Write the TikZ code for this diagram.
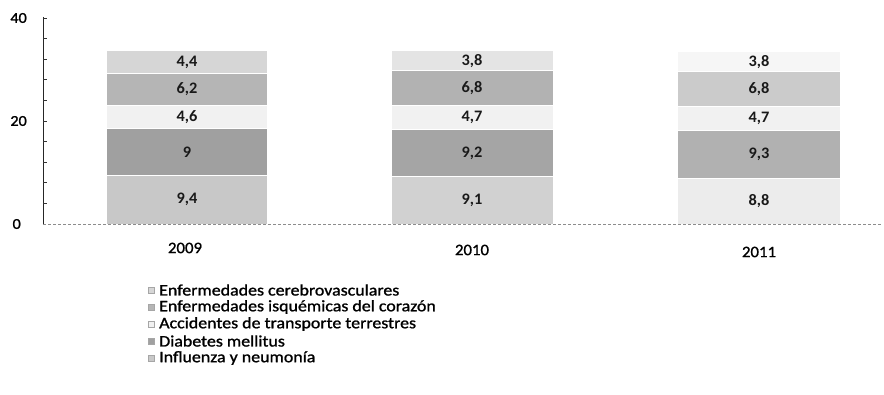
\documentclass[tikz,border=0pt]{standalone}
\usepackage{fontspec}
\setmainfont{Carlito}
\newfontfamily\legfont[FakeStretch=1.12, FakeBold=1.2]{Carlito}
\newfontfamily\yearfont[FakeStretch=1.05, FakeBold=1]{Carlito}
\newfontfamily\segfont[FakeStretch=1.02]{Carlito}
\newfontfamily\axfont[FakeStretch=1.08, FakeBold=1.2]{Carlito}
\begin{document}
\begin{tikzpicture}[x=1pt,y=-1pt,
  seglab/.style={font=\segfont\fontsize{16}{16}\selectfont\bfseries, text=black!90, inner sep=0pt},
  axlab/.style={font=\axfont\fontsize{15}{15}\selectfont, anchor=east, inner sep=0pt},
  yearlab/.style={font=\yearfont\fontsize{16}{16}\selectfont, inner sep=0pt},
  leglab/.style={font=\legfont\fontsize{16}{16}\selectfont, anchor=west, inner sep=0pt},
  legmark/.style={minimum size=6pt, inner sep=0pt, draw=black!35, line width=0.4pt},
  axisline/.style={line width=0.9pt, black!85},
  baseline/.style={line width=0.8pt, black!45, dash pattern=on 3pt off 2pt},
]
\useasboundingbox (0,0) rectangle (884,395);
\definecolor{cerA}{HTML}{D6D6D6}\definecolor{cerB}{HTML}{E4E4E4}\definecolor{cerC}{HTML}{F6F6F6}
\definecolor{isqA}{HTML}{B5B5B5}\definecolor{isqB}{HTML}{B2B2B2}\definecolor{isqC}{HTML}{CBCBCB}
\definecolor{accA}{HTML}{F1F1F1}
\definecolor{diaA}{HTML}{A0A0A0}\definecolor{diaB}{HTML}{A5A5A5}\definecolor{diaC}{HTML}{B1B1B1}
\definecolor{infA}{HTML}{C8C8C8}\definecolor{infB}{HTML}{D1D1D1}\definecolor{infC}{HTML}{ECECEC}
\def\s{5.15}
% 2009
\fill[infA] (107,224) rectangle (267,{224-9.4*\s});
\fill[diaA] (107,{224-9.4*\s-1}) rectangle (267,{224-18.4*\s});
\fill[accA] (107,{224-18.4*\s-1}) rectangle (267,{224-23.0*\s});
\fill[isqA] (107,{224-23.0*\s-1}) rectangle (267,{224-29.2*\s});
\fill[cerA] (107,{224-29.2*\s-1}) rectangle (267,{224-33.6*\s});
% 2010
\fill[infB] (392,224) rectangle (553,{224-9.1*\s});
\fill[diaB] (392,{224-9.1*\s-1}) rectangle (553,{224-18.3*\s});
\fill[accA] (392,{224-18.3*\s-1}) rectangle (553,{224-23.0*\s});
\fill[isqB] (392,{224-23.0*\s-1}) rectangle (553,{224-29.8*\s});
\fill[cerB] (392,{224-29.8*\s-1}) rectangle (553,{224-33.6*\s});
% 2011
\fill[infC] (678,224) rectangle (840,{224-8.8*\s});
\fill[diaC] (678,{224-8.8*\s-1}) rectangle (840,{224-18.1*\s});
\fill[accA] (678,{224-18.1*\s-1}) rectangle (840,{224-22.8*\s});
\fill[isqC] (678,{224-22.8*\s-1}) rectangle (840,{224-29.6*\s});
\fill[cerC] (678,{224-29.6*\s-1}) rectangle (840,{224-33.4*\s});
% segment labels
\node[seglab] (a1) at (187,{224-4.7*\s}) {9,4};
\node[seglab] (a2) at (187,{224-13.9*\s}) {9};
\node[seglab] (a3) at (187,{224-20.7*\s}) {4,6};
\node[seglab] (a4) at (187,{224-26.1*\s}) {6,2};
\node[seglab] (a5) at (187,{224-31.4*\s}) {4,4};
\node[seglab] (b1) at (472,{224-4.55*\s}) {9,1};
\node[seglab] (b2) at (472,{224-13.7*\s}) {9,2};
\node[seglab] (b3) at (472,{224-20.65*\s}) {4,7};
\node[seglab] (b4) at (472,{224-26.4*\s}) {6,8};
\node[seglab] (b5) at (472,{224-31.7*\s}) {3,8};
\node[seglab] (c1) at (759,{224-4.4*\s}) {8,8};
\node[seglab] (c2) at (759,{224-13.45*\s}) {9,3};
\node[seglab] (c3) at (759,{224-20.45*\s}) {4,7};
\node[seglab] (c4) at (759,{224-26.2*\s}) {6,8};
\node[seglab] (c5) at (759,{224-31.5*\s}) {3,8};
% axes
\coordinate (ytop) at (43,17);
\coordinate (yorig) at (43,224);
\coordinate (xend) at (882,224);
\draw[baseline] (yorig) -- (xend);
\draw[axisline] (ytop) -- (yorig);
\foreach \v in {4,8,...,40} \draw[line width=0.7pt, black!80] (43,{224-\v*\s}) -- (47,{224-\v*\s});
\node[axlab] (l0) at (21,224) {0};
\node[axlab] (l20) at (27,121) {20};
\node[axlab] (l40) at (27,18) {40};
% years
\node[yearlab] (y1) at (185,248) {2009};
\node[yearlab] (y2) at (472,250) {2010};
\node[yearlab] (y3) at (759,252) {2011};
% legend
\node[legmark, fill=cerA] (m1) at (151,290) {};
\node[legmark, fill=isqA] (m2) at (151,307) {};
\node[legmark, fill=accA] (m3) at (151,324) {};
\node[legmark, fill=diaA] (m4) at (151,341) {};
\node[legmark, fill=infA] (m5) at (151,358) {};
\node[leglab] (t1) at (159,290) {Enfermedades cerebrovasculares};
\node[leglab] (t2) at (159,307) {Enfermedades isquémicas del corazón};
\node[leglab] (t3) at (159,324) {Accidentes de transporte terrestres};
\node[leglab] (t4) at (159,341) {Diabetes mellitus};
\node[leglab] (t5) at (159,358) {Influenza y neumonía};
\end{tikzpicture}
\end{document}
